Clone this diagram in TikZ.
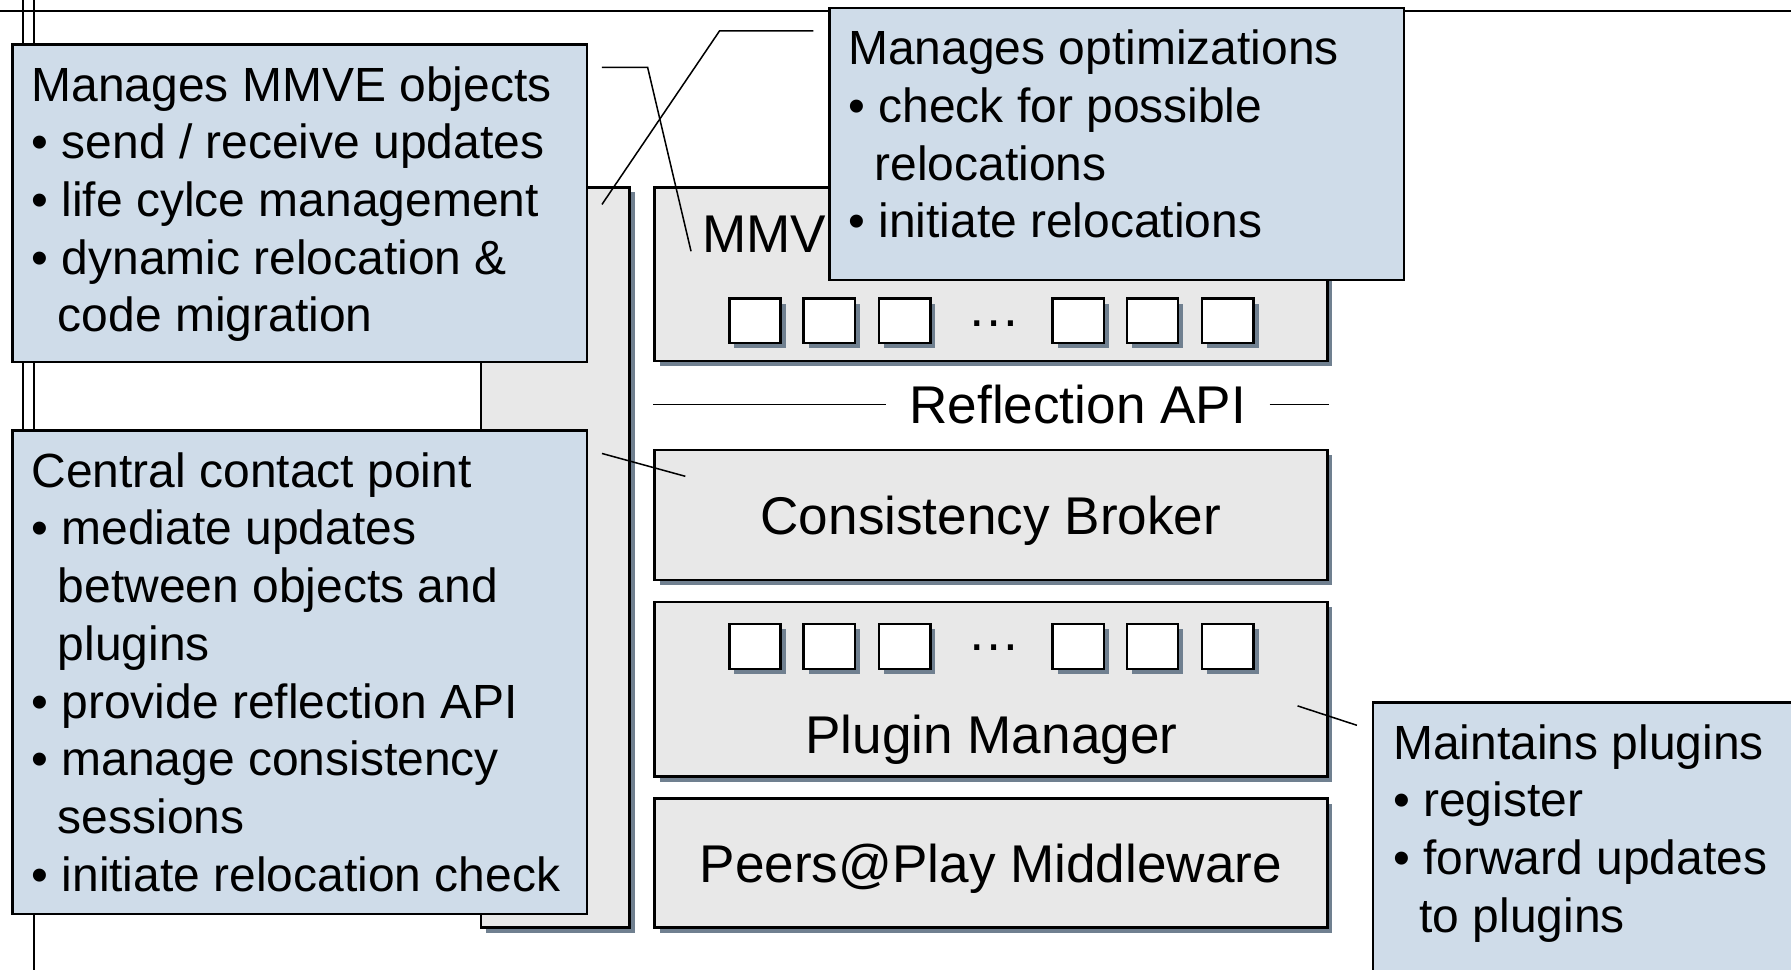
\documentclass[tikz,border=0pt]{standalone}
\usepackage{fontspec}
\setmainfont{Liberation Sans}
\usetikzlibrary{shadows}

\definecolor{notefill}{RGB}{207,220,233}
\definecolor{boxfill}{RGB}{232,232,232}
\definecolor{shadowgray}{RGB}{112,128,144}

\newcommand{\notefont}{\fontsize{12.6}{15.15}\selectfont}
\newcommand{\boxfont}{\fontsize{13.95}{16.7}\selectfont}
\newcommand{\bitem}{\textbullet\ }
\newcommand{\bcont}{\hspace*{6.9pt}}

\tikzset{
  layerbox/.style={draw, fill=boxfill, line width=0.65pt, inner sep=0pt,
    font=\boxfont, text depth=0pt,
    general shadow={fill=shadowgray, shadow xshift=1.35pt, shadow yshift=-1.35pt}},
  slot/.style={layerbox, fill=white, minimum width=13.5pt, minimum height=11.7pt},
  boxlabel/.style={font=\boxfont, text depth=0pt, inner sep=0pt},
  note/.style={draw, fill=notefill, line width=0.65pt, anchor=north west, inner sep=0pt},
  notetext/.style={anchor=north west, align=left, inner sep=0pt, font=\notefont},
  link/.style={line width=0.4pt},
}

\begin{document}
\begin{tikzpicture}[x=0.3pt, y=-0.3pt]
  \useasboundingbox (0,0) rectangle (1568,849);
  \clip (0,0) rectangle (1568,849);

  % frame lines in the back
  \draw[line width=0.5pt] (0,10) -- (1568,10);
  \draw[line width=0.5pt] (20,0) -- (20,600);
  \draw[line width=0.5pt] (30,0) -- (30,849);

  % layer stack
  \node[layerbox, minimum width=39pt, minimum height=194.4pt] (side) at (486,488) {};
  \node[layerbox, minimum width=176.7pt, minimum height=45.6pt] (objects) at (867.5,240) {};
  \node[boxlabel, anchor=base west] (objlabel) at (614,221) {MMV};
  \node[layerbox, minimum width=176.7pt, minimum height=34.2pt] (broker) at (867.5,451) {Consistency Broker};
  \node[layerbox, minimum width=176.7pt, minimum height=45.9pt] (plugins) at (867.5,603.5) {};
  \node[boxlabel] (pluginlabel) at (868,643) {Plugin Manager};
  \node[layerbox, minimum width=176.7pt, minimum height=33.9pt] (middleware) at (867.5,755.5) {Peers@Play Middleware};

  % object and plugin slots
  \foreach \x in {661,726,792,944,1009,1075} {
    \node[slot] (objslot\x) at (\x,281) {};
    \node[slot] (plugslot\x) at (\x,566) {};
  }
  \node[boxlabel] (objdots) at (870,283) {…};
  \node[boxlabel] (plugdots) at (870,567) {…};

  % reflection API line
  \node[boxlabel, inner xsep=6pt] (api) at (943.5,354) {Reflection API};
  \draw[link] (api.west) -- (api.west -| objects.west);
  \draw[link] (api.east) -- (api.east -| objects.east);

  % notes
  \node[note, minimum width=150.9pt, minimum height=83.4pt] (objnote) at (10,38) {};
  \node[notetext] (objtext) at (27,57.5) {Manages MMVE objects\\
    \bitem send / receive updates\\
    \bitem life cylce management\\
    \bitem dynamic relocation \&\\
    \bcont code migration};

  \node[note, minimum width=150.9pt, minimum height=71.4pt] (optnote) at (725,6) {};
  \node[notetext] (opttext) at (742,25.5) {Manages optimizations\\
    \bitem check for possible\\
    \bcont relocations\\
    \bitem initiate relocations};

  \node[note, minimum width=150.9pt, minimum height=126.9pt] (brokernote) at (10,376) {};
  \node[notetext] (brokertext) at (27,395.5) {Central contact point\\
    \bitem mediate updates\\
    \bcont between objects and\\
    \bcont plugins\\
    \bitem provide reflection API\\
    \bitem manage consistency\\
    \bcont sessions\\
    \bitem initiate relocation check};

  \node[note, minimum width=119.7pt, minimum height=85.8pt] (pluginnote) at (1201,614) {};
  \node[notetext] (plugintext) at (1219,633.5) {Maintains plugins\\
    \bitem register\\
    \bitem forward updates\\
    \bcont to plugins};

  % note links
  \coordinate (objfrom) at (527,59);
  \coordinate (objto) at (605,220);
  \draw[link] (objfrom) -- ++(40,0) -- (objto);
  \coordinate (optfrom) at (712,27);
  \coordinate (optto) at (527,179);
  \draw[link] (optfrom) -- ++(-82,0) -- (optto);
  \coordinate (brokerfrom) at (527,397);
  \coordinate (brokerto) at (600,417);
  \draw[link] (brokerfrom) -- (brokerto);
  \coordinate (pluginfrom) at (1188,635);
  \coordinate (pluginto) at (1136,618);
  \draw[link] (pluginfrom) -- (pluginto);
\end{tikzpicture}
\end{document}
